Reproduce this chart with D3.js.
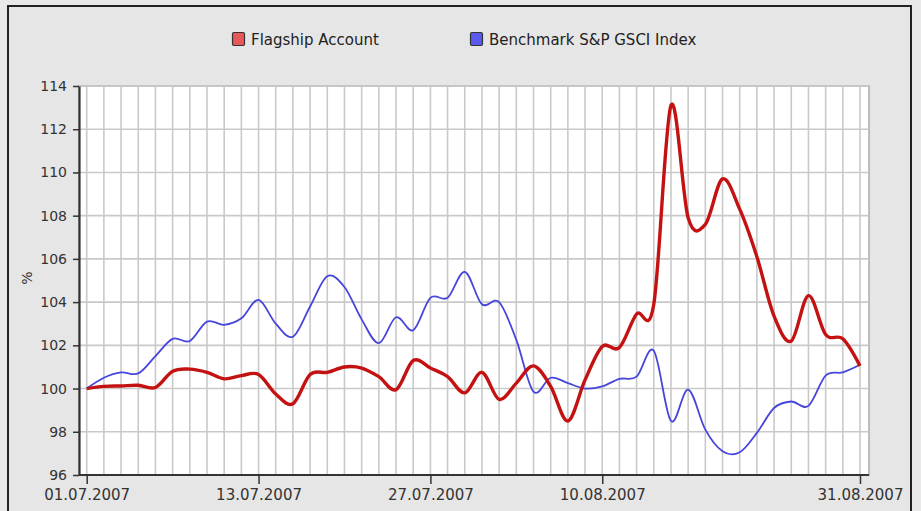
<!DOCTYPE html>
<html>
<head>
<meta charset="utf-8">
<script src="https://cdn.jsdelivr.net/npm/d3@7"></script>
<style>
  body { margin: 0; background: #e9e9e9; }
  svg { display: block; }
</style>
</head>
<body>
<div id="chart"></div>
<script>
// trading days shown on the axis (01.07 then business days)
const dates = ["01.07.2007",
  "02.07.2007","03.07.2007","04.07.2007","05.07.2007","06.07.2007",
  "09.07.2007","10.07.2007","11.07.2007","12.07.2007","13.07.2007",
  "16.07.2007","17.07.2007","18.07.2007","19.07.2007","20.07.2007",
  "23.07.2007","24.07.2007","25.07.2007","26.07.2007","27.07.2007",
  "30.07.2007","31.07.2007","01.08.2007","02.08.2007","03.08.2007",
  "06.08.2007","07.08.2007","08.08.2007","09.08.2007","10.08.2007",
  "13.08.2007","14.08.2007","15.08.2007","16.08.2007","17.08.2007",
  "20.08.2007","21.08.2007","22.08.2007","23.08.2007","24.08.2007",
  "27.08.2007","28.08.2007","29.08.2007","30.08.2007","31.08.2007"];

const tickLabels = ["01.07.2007", "13.07.2007", "27.07.2007", "10.08.2007", "31.08.2007"];
const yTicks = [96, 98, 100, 102, 104, 106, 108, 110, 112, 114];

const flagship = [100.0, 100.1, 100.12, 100.15, 100.05, 100.8, 100.9, 100.75, 100.45, 100.6,
  100.65, 99.75, 99.3, 100.65, 100.75, 101.0, 100.95, 100.55, 99.95, 101.3,
  100.95, 100.55, 99.8, 100.75, 99.5, 100.25, 101.05, 100.1, 98.5, 100.4,
  101.95, 101.9, 103.45, 103.9, 113.1, 107.9, 107.6, 109.7, 108.3, 106.1,
  103.35, 102.2, 104.3, 102.5, 102.3, 101.05];

const benchmark = [100.0, 100.5, 100.75, 100.7, 101.5, 102.3, 102.2, 103.1, 102.95, 103.25,
  104.1, 103.0, 102.4, 103.8, 105.2, 104.7, 103.2, 102.1, 103.3, 102.7,
  104.2, 104.2, 105.4, 103.9, 104.0, 102.25, 99.86, 100.5, 100.25, 100.0,
  100.1, 100.45, 100.55, 101.75, 98.5, 99.95, 98.1, 97.1, 97.05, 97.95,
  99.1, 99.4, 99.2, 100.6, 100.75, 101.1];

const seriesNames = ["Flagship Account", "Benchmark S&P GSCI Index"];

const width = 921, height = 511;
const plot = {left: 79, right: 869, top: 86, bottom: 475};

let svg = d3.select("#chart")
  .append("svg")
    .attr("width", width)
    .attr("height", height);

// outer frame
svg.append("rect")
  .attr("x", 8).attr("y", 6)
  .attr("width", 903).attr("height", 520)
  .attr("fill", "#e6e6e6")
  .attr("stroke", "#222")
  .attr("stroke-width", 2);

let x = d3.scalePoint()
  .domain(dates)
  .range([86.7, 860]);

let y = d3.scaleLinear()
  .domain([96, 114])
  .range([plot.bottom, plot.top]);

// plot background
svg.append("rect")
  .attr("x", plot.left).attr("y", plot.top)
  .attr("width", plot.right - plot.left)
  .attr("height", plot.bottom - plot.top)
  .attr("fill", "white")
  .attr("stroke", "#aaa")
  .attr("stroke-width", 1.5);

// grid
svg.append("g")
  .selectAll("line")
  .data(dates)
  .enter().append("line")
    .attr("x1", d => x(d)).attr("x2", d => x(d))
    .attr("y1", plot.top).attr("y2", plot.bottom)
    .attr("stroke", "#c9c9c9")
    .attr("stroke-width", 1.6);

svg.append("g")
  .selectAll("line")
  .data(yTicks.slice(1))
  .enter().append("line")
    .attr("x1", plot.left).attr("x2", plot.right)
    .attr("y1", d => y(d)).attr("y2", d => y(d))
    .attr("stroke", "#c9c9c9")
    .attr("stroke-width", 1.6);

// y axis
let yAxis = svg.append("g")
  .attr("transform", "translate(" + plot.left + ",0)")
  .call(d3.axisLeft(y).tickValues(yTicks).tickSize(6).tickPadding(6).tickSizeOuter(0));

// x axis
let xAxis = svg.append("g")
  .attr("transform", "translate(0," + plot.bottom + ")")
  .call(d3.axisBottom(x).tickValues(tickLabels).tickSize(9).tickPadding(5).tickSizeOuter(0));

xAxis.select(".domain").attr("d", "M" + plot.left + ",0H" + plot.right);

[yAxis, xAxis].forEach(a => {
  a.select(".domain").attr("stroke", "#333").attr("stroke-width", 2.2);
  a.selectAll(".tick line").attr("stroke", "#333").attr("stroke-width", 1.5);
  a.selectAll(".tick text")
    .attr("fill", "#333")
    .style("font-family", "DejaVu Sans, sans-serif")
    .style("font-size", "14px");
});
xAxis.selectAll(".tick text").style("font-size", "15px");

svg.append("text")
  .attr("transform", "translate(32,278) rotate(-90)")
  .attr("text-anchor", "middle")
  .style("fill", "#333")
  .style("font-family", "DejaVu Sans, sans-serif")
  .style("font-size", "14px")
  .text("%");

// lines
let line = d3.line()
  .x((d, i) => x(dates[i]))
  .y(d => y(d))
  .curve(d3.curveCardinal.tension(0));

svg.append("path")
  .datum(benchmark)
  .attr("d", line)
  .attr("fill", "none")
  .attr("stroke", "#4646dc")
  .attr("stroke-width", 1.8);

svg.append("path")
  .datum(flagship)
  .attr("d", line)
  .attr("fill", "none")
  .attr("stroke", "#c41212")
  .attr("stroke-width", 3.4);

// legend
const legendX = [232, 470];
const legendFill = ["#e85858", "#5a5aee"];

let legend = svg.append("g")
  .selectAll("g")
  .data(seriesNames)
  .enter().append("g")
    .attr("transform", (d, i) => "translate(" + legendX[i] + ",32)");

legend.append("rect")
  .attr("x", 0.5).attr("y", 0.5)
  .attr("width", 12).attr("height", 13)
  .attr("rx", 1.5)
  .attr("fill", (d, i) => legendFill[i])
  .attr("stroke", "#333")
  .attr("stroke-width", 1.2);

legend.append("text")
  .attr("x", 19)
  .attr("y", 8)
  .style("fill", "#222")
  .style("font-family", "DejaVu Sans, sans-serif")
  .style("font-size", "15px")
  .style("dominant-baseline", "middle")
  .text(d => d);
</script>
</body>
</html>
